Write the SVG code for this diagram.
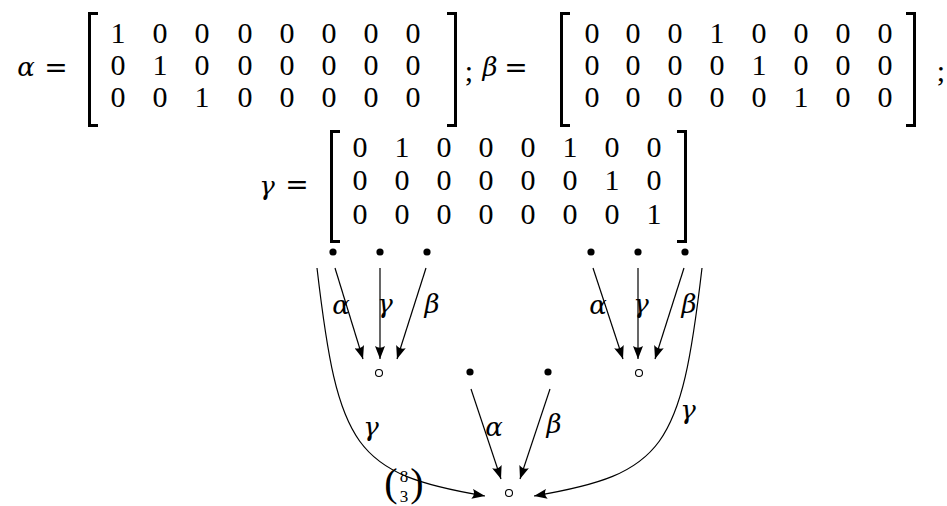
<svg xmlns="http://www.w3.org/2000/svg" width="947" height="506" viewBox="0 0 947 506">
<style>
.num{font-family:"Liberation Serif",serif;font-size:30px;text-anchor:middle;fill:#000}
.gr{font-family:"DejaVu Serif",serif;font-style:italic;font-size:26px;text-anchor:middle;fill:#000}
.eq{font-family:"DejaVu Serif",serif;font-size:28px;text-anchor:middle;fill:#000}
.br{fill:none;stroke:#000;stroke-width:3;stroke-linejoin:miter}
.edge{fill:none;stroke:#000;stroke-width:1.2;marker-end:url(#ah)}
.dot{fill:#000}
.open{fill:#fff;stroke:#000;stroke-width:1.1}
.bin{font-family:"Liberation Serif",serif;font-size:17px;text-anchor:middle;fill:#000}
.par{font-family:"Liberation Serif",serif;font-size:40px;text-anchor:middle;fill:#000}
</style>
<defs>
<marker id="ah" markerUnits="userSpaceOnUse" markerWidth="13" markerHeight="10" viewBox="0 0 13 10" refX="13" refY="5" orient="auto">
<path d="M0,0 Q3.5,5 0,10 L13,5 Z" fill="#000"/>
</marker>
</defs>
<rect width="947" height="506" fill="#fff"/>

<g id="eq-alpha">
<text class="gr" x="26" y="76">α</text>
<text class="eq" x="56" y="77">=</text>
<path class="br" d="M98,13.5 H89.5 V125.5 H98"/>
<text class="num" x="118 160 202 245 287 329 371 413" y="43">10000000</text>
<text class="num" x="118 160 202 245 287 329 371 413" y="75">01000000</text>
<text class="num" x="118 160 202 245 287 329 371 413" y="107">00100000</text>
<path class="br" d="M447,13.5 H455.5 V125.5 H447"/>
<text class="num" x="469" y="81">;</text>
</g>

<g id="eq-beta">
<text class="gr" x="490" y="76">β</text>
<text class="eq" x="516" y="77">=</text>
<path class="br" d="M570,13.5 H561.5 V125.5 H570"/>
<text class="num" x="592 633 675 717 759 801 843 885" y="43">00010000</text>
<text class="num" x="592 633 675 717 759 801 843 885" y="75">00001000</text>
<text class="num" x="592 633 675 717 759 801 843 885" y="107">00000100</text>
<path class="br" d="M906,13.5 H914.5 V125.5 H906"/>
<text class="num" x="941" y="81">;</text>
</g>

<g id="eq-gamma">
<text class="gr" x="267" y="195">γ</text>
<text class="eq" x="297" y="194">=</text>
<path class="br" d="M340,131.5 H331.5 V241.5 H340"/>
<text class="num" x="360 402 444 486 528 570 612 654" y="157">01000100</text>
<text class="num" x="360 402 444 486 528 570 612 654" y="190">00000010</text>
<text class="num" x="360 402 444 486 528 570 612 654" y="224">00000001</text>
<path class="br" d="M677,131.5 H685.5 V241.5 H677"/>
</g>

<g id="connectors">
<path class="edge" d="M335,268 L363,359"/>
<path class="edge" d="M380,268 L380,359"/>
<path class="edge" d="M426,268 L397,359"/>
<path class="edge" d="M593,268 L623,359"/>
<path class="edge" d="M638,268 L638,359"/>
<path class="edge" d="M684,268 L655,359"/>
<path class="edge" d="M471,389 L501,479"/>
<path class="edge" d="M550,389 L520,479"/>
<path class="edge" d="M317,268 C338,448 354,474 485,496"/>
<path class="edge" d="M702,268 C681,448 665,474 534,496"/>
</g>

<g id="labels">
<text class="gr" x="341" y="314">α</text>
<text class="gr" x="385" y="313">γ</text>
<text class="gr" x="432" y="313">β</text>
<text class="gr" x="598" y="314">α</text>
<text class="gr" x="641" y="313">γ</text>
<text class="gr" x="689" y="313">β</text>
<text class="gr" x="494" y="436">α</text>
<text class="gr" x="554" y="433">β</text>
<text class="gr" x="371" y="436">γ</text>
<text class="gr" x="688" y="419">γ</text>
</g>

<g id="n-top-left-1"><circle class="dot" cx="333" cy="252" r="3.6"/></g>
<g id="n-top-left-2"><circle class="dot" cx="380" cy="252" r="3.6"/></g>
<g id="n-top-left-3"><circle class="dot" cx="427" cy="252" r="3.6"/></g>
<g id="n-top-right-1"><circle class="dot" cx="591" cy="252" r="3.6"/></g>
<g id="n-top-right-2"><circle class="dot" cx="638" cy="252" r="3.6"/></g>
<g id="n-top-right-3"><circle class="dot" cx="685" cy="252" r="3.6"/></g>
<g id="n-mid-left"><circle class="open" cx="379" cy="373" r="3.5"/></g>
<g id="n-mid-right"><circle class="open" cx="639" cy="373" r="3.5"/></g>
<g id="n-mid-dot-1"><circle class="dot" cx="470" cy="372" r="3.6"/></g>
<g id="n-mid-dot-2"><circle class="dot" cx="548" cy="372" r="3.6"/></g>
<g id="n-bottom"><circle class="open" cx="509" cy="493" r="3.5"/></g>

<g id="binom">
<text class="par" x="391" y="496">(</text>
<text class="bin" x="404" y="482">8</text>
<text class="bin" x="404" y="502">3</text>
<text class="par" x="417" y="496">)</text>
</g>
</svg>
